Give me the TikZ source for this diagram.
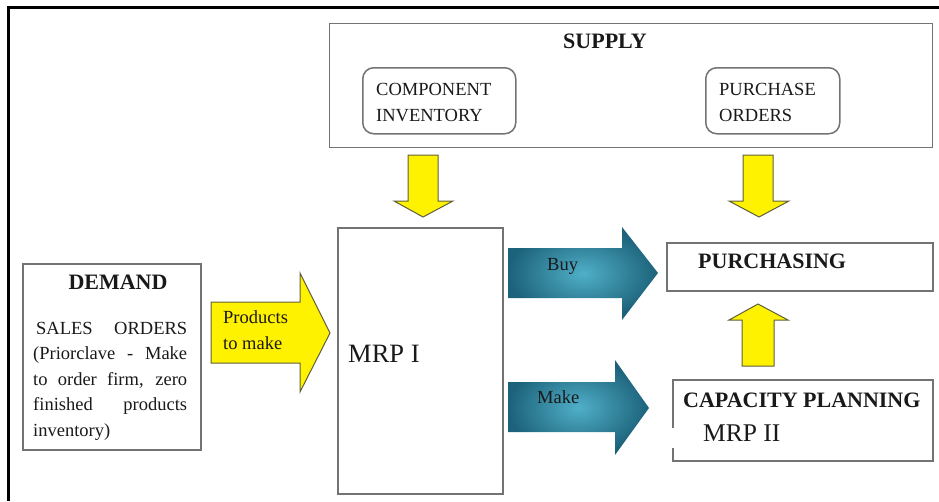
\documentclass[tikz,border=0pt]{standalone}
\usepackage{fontspec}
\setmainfont{Liberation Serif}
\begin{document}
\begin{tikzpicture}[x=1pt,y=-1pt]
  \definecolor{boxline}{RGB}{115,115,115}
  \definecolor{tealdark}{RGB}{28,98,122}
  \definecolor{teallight}{RGB}{80,175,200}
  \definecolor{arrowedge}{RGB}{95,95,60}
  \definecolor{ink}{RGB}{25,25,25}
  \tikzset{
    panel/.style={draw=boxline, line width=1.5pt, inner sep=0pt, anchor=north west},
    roundpanel/.style={panel, rounded corners=11pt},
    txt/.style={inner sep=0pt, anchor=base west, text=ink, font=\fontsize{18.5}{25}\selectfont},
    boldtxt/.style={txt, font=\fontsize{22}{25}\selectfont\bfseries},
    bigtxt/.style={txt, font=\fontsize{26.5}{30}\selectfont},
    yellowarrow/.style={fill=yellow, draw=arrowedge, line width=1pt, line join=miter},
    tealarrow/.style={inner color=teallight, outer color=tealdark}
  }
  \useasboundingbox (0,0) rectangle (939,501);

  % outer frame (top and left rules)
  \draw[line width=3.2pt] (8.5,501) -- (8.5,7.6) -- (939,7.6);

  % supply panel with its two sources
  \node[panel, minimum width=603pt, minimum height=124pt] (supply) at (328.5,22.5) {};
  \node[boldtxt, anchor=base] (supplylbl) at (605,48) {SUPPLY};
  \node[roundpanel, minimum width=153pt, minimum height=66pt] (compinv) at (362,67) {};
  \node[txt] (compinv1) at (376,95) {COMPONENT};
  \node[txt] (compinv2) at (376,121) {INVENTORY};
  \node[roundpanel, minimum width=134pt, minimum height=66pt] (purord) at (705,67) {};
  \node[txt] (purord1) at (719,95) {PURCHASE};
  \node[txt] (purord2) at (719,121) {ORDERS};

  % demand panel
  \node[panel, minimum width=178pt, minimum height=186pt] (demand) at (22,263) {};
  \node[boldtxt, anchor=base] (demandlbl) at (118,289) {DEMAND};
  \node[txt] (dl1) at (33,334) {\makebox[154pt][s]{\hspace*{3pt}SALES ORDERS}};
  \node[txt] (dl2) at (33,359.5) {\makebox[154pt][s]{(Priorclave - Make}};
  \node[txt] (dl3) at (33,385) {\makebox[154pt][s]{to order firm, zero}};
  \node[txt] (dl4) at (33,410.5) {\makebox[154pt][s]{finished products}};
  \node[txt] (dl5) at (33,436) {inventory)};

  % central MRP I panel
  \node[panel, minimum width=165pt, minimum height=266pt] (mrp) at (337,227) {};
  \node[bigtxt] (mrplbl) at (348,362) {MRP I};

  % purchasing and capacity planning panels
  \node[panel, minimum width=266pt, minimum height=48pt] (purch) at (666,242) {};
  \node[boldtxt] (purchlbl) at (698,268) {PURCHASING};
  \node[panel, minimum width=260pt, minimum height=81pt] (capa) at (672,379) {};
  \fill[white] (669,428) rectangle (675,448);
  \node[boldtxt] (capalbl) at (683,407) {CAPACITY PLANNING};
  \node[bigtxt, font=\fontsize{25.5}{30}\selectfont] (mrp2lbl) at (703,441) {MRP II};

  % yellow block arrows
  \draw[yellowarrow] (211,302) -- (300,302) -- (300,273) -- (330,333) -- (300,392) -- (300,363) -- (211,363) -- cycle;
  \node[txt] (prod1) at (223,323) {Products};
  \node[txt] (prod2) at (223,349) {to make};
  \draw[yellowarrow] (408,155) -- (438,155) -- (438,201) -- (453,201) -- (423,217) -- (394,201) -- (408,201) -- cycle;
  \draw[yellowarrow] (743,155) -- (773,155) -- (773,201) -- (789,201) -- (759,217) -- (729,201) -- (743,201) -- cycle;
  \draw[yellowarrow] (742,366) -- (774,366) -- (774,320) -- (788,320) -- (758,304) -- (729,320) -- (742,320) -- cycle;

  % teal block arrows
  \shade[tealarrow] (508,248) -- (622,248) -- (622,227) -- (658,273) -- (622,320) -- (622,298) -- (508,298) -- cycle;
  \node[txt] (buylbl) at (547,270) {Buy};
  \shade[tealarrow] (508,382) -- (615,382) -- (615,360) -- (649,408) -- (615,455) -- (615,432) -- (508,432) -- cycle;
  \node[txt] (makelbl) at (537,403) {Make};
\end{tikzpicture}
\end{document}
